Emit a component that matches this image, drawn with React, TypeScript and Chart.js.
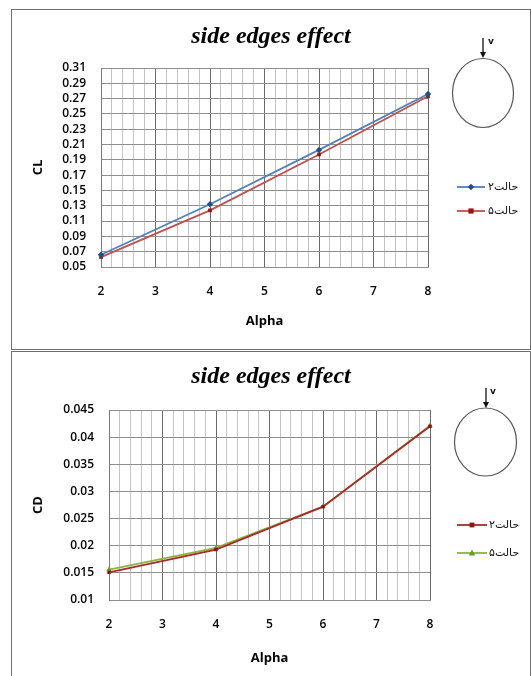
import React, { useEffect, useRef } from 'react';
import { Chart, registerables } from 'chart.js';

Chart.register(...registerables);

// ---- data ----
const chartTitle = 'side edges effect';
const xAxisTitle = 'Alpha';
const caseLabels = ['حالت۲', 'حالت۵'];
const flowLabel = 'v';

const alphaValues = [2, 4, 6, 8];
const alphaTickLabels = ['2', '3', '4', '5', '6', '7', '8'];
const alphaMinorPerUnit = 5;

const clTitle = 'CL';
const clTickLabels = ['0.05', '0.07', '0.09', '0.11', '0.13', '0.15', '0.17', '0.19', '0.21', '0.23', '0.25', '0.27', '0.29', '0.31'];
const clCase2 = [0.066, 0.132, 0.203, 0.276];
const clCase5 = [0.063, 0.124, 0.197, 0.273];

const cdTitle = 'CD';
const cdTickLabels = ['0.01', '0.015', '0.02', '0.025', '0.03', '0.035', '0.04', '0.045'];
const cdCase2 = [0.0151, 0.0193, 0.0272, 0.042];
const cdCase5 = [0.0156, 0.0196, 0.0272, 0.0421];

// ---- styling ----
const TICK_FONT = { family: '"Open Sans", "DejaVu Sans", sans-serif', size: 12, weight: '600' as const };
const AXIS_TITLE_FONT = { family: '"Open Sans", "DejaVu Sans", sans-serif', size: 13, weight: 'bold' as const };
const TITLE_FONT = { family: '"Liberation Serif", "Times New Roman", serif', size: 24, weight: 'bold' as const, style: 'italic' as const };
const GRID_H = '#8f8f8f';
const GRID_MAJOR = '#6a6a6a';
const GRID_MINOR = '#c4c4c4';

type MarkerStyle = 'rectRot' | 'rect' | 'triangle';
type Series = { label: string; values: number[]; line: string; marker: string; style: MarkerStyle; radius: number };

type Frame = {
  width: number;
  height: number;
  yAxisWidth: number;
  rightGutter: number;
  xAxisHeight: number;
  titlePadTop: number;
  titlePadBottom: number;
  xTickPad: number;
  xTitlePadBottom: number;
  yTickPad: number;
  yTitlePad: number;
  legendRows: number[];
  legendLine: [number, number];
  legendMarkerX: number;
  legendTextX: number;
  circle: { cx: number; cy: number; rx: number; ry: number };
  arrow: { x: number; y0: number; y1: number };
  vLabel: { x: number; y: number };
};

const isWhole = (v: number) => Math.abs(v - Math.round(v)) < 1e-9;

function alphaGrid() {
  const first = Number(alphaTickLabels[0]);
  const last = Number(alphaTickLabels[alphaTickLabels.length - 1]);
  const steps = (last - first) * alphaMinorPerUnit;
  const out: { value: number }[] = [];
  for (let i = 0; i <= steps; i++) out.push({ value: first + i / alphaMinorPerUnit });
  return out;
}

function drawMarker(ctx: CanvasRenderingContext2D, style: MarkerStyle, x: number, y: number, r: number, color: string) {
  ctx.save();
  ctx.fillStyle = color;
  ctx.beginPath();
  if (style === 'rectRot') {
    ctx.moveTo(x, y - r);
    ctx.lineTo(x + r, y);
    ctx.lineTo(x, y + r);
    ctx.lineTo(x - r, y);
  } else if (style === 'rect') {
    ctx.rect(x - r, y - r, r * 2, r * 2);
  } else {
    ctx.moveTo(x, y - r * 1.1);
    ctx.lineTo(x + r, y + r * 0.8);
    ctx.lineTo(x - r, y + r * 0.8);
  }
  ctx.closePath();
  ctx.fill();
  ctx.restore();
}

// Legend entries and the cylinder sketch on the right of each chart
function makeSidePanel(frame: Frame, series: Series[]) {
  return {
    id: 'sidePanel',
    afterDraw(chart: Chart) {
      const ctx = chart.ctx;
      ctx.save();
      // cylinder cross-section
      ctx.strokeStyle = '#555';
      ctx.lineWidth = 1.2;
      ctx.beginPath();
      ctx.ellipse(frame.circle.cx, frame.circle.cy, frame.circle.rx, frame.circle.ry, 0, 0, Math.PI * 2);
      ctx.stroke();
      // flow arrow
      const a = frame.arrow;
      ctx.strokeStyle = '#111';
      ctx.fillStyle = '#111';
      ctx.lineWidth = 1.3;
      ctx.beginPath();
      ctx.moveTo(a.x, a.y0);
      ctx.lineTo(a.x, a.y1 - 5);
      ctx.stroke();
      ctx.beginPath();
      ctx.moveTo(a.x - 3, a.y1 - 6);
      ctx.lineTo(a.x + 3, a.y1 - 6);
      ctx.lineTo(a.x, a.y1);
      ctx.closePath();
      ctx.fill();
      ctx.font = 'bold 9px "DejaVu Sans", sans-serif';
      ctx.textAlign = 'left';
      ctx.textBaseline = 'middle';
      ctx.fillText(flowLabel, frame.vLabel.x, frame.vLabel.y);
      // legend
      series.forEach((s, i) => {
        const y = frame.legendRows[i];
        ctx.strokeStyle = s.line;
        ctx.lineWidth = 1.8;
        ctx.beginPath();
        ctx.moveTo(frame.legendLine[0], y);
        ctx.lineTo(frame.legendLine[1], y);
        ctx.stroke();
        drawMarker(ctx, s.style, frame.legendMarkerX, y, s.radius, s.marker);
        ctx.fillStyle = '#111';
        ctx.font = '11px "DejaVu Sans", sans-serif';
        ctx.textAlign = 'left';
        ctx.textBaseline = 'middle';
        ctx.fillText(s.label, frame.legendTextX, y);
      });
      ctx.restore();
    },
  };
}

function makeConfig(frame: Frame, yTitle: string, yLabels: string[], series: Series[]): any {
  const yValues = yLabels.map(Number);
  return {
    type: 'line',
    data: {
      datasets: series.map((s) => ({
        label: s.label,
        data: alphaValues.map((a, i) => ({ x: a, y: s.values[i] })),
        borderColor: s.line,
        borderWidth: 1.8,
        pointStyle: s.style,
        pointRadius: s.radius,
        pointBackgroundColor: s.marker,
        pointBorderColor: s.marker,
        pointBorderWidth: 0,
        tension: 0,
        clip: false,
        fill: false,
      })),
    },
    options: {
      responsive: false,
      animation: false,
      devicePixelRatio: 1,
      events: [],
      layout: { padding: { left: 0, right: 0, top: 0, bottom: 0 } },
      plugins: {
        legend: { display: false },
        tooltip: { enabled: false },
        title: {
          display: true,
          text: chartTitle,
          color: '#000',
          font: TITLE_FONT,
          padding: { top: frame.titlePadTop, bottom: frame.titlePadBottom },
        },
      },
      scales: {
        x: {
          type: 'linear',
          min: Number(alphaTickLabels[0]),
          max: Number(alphaTickLabels[alphaTickLabels.length - 1]),
          afterBuildTicks: (s: any) => {
            s.ticks = alphaGrid();
          },
          afterFit: (s: any) => {
            s.height = frame.xAxisHeight;
          },
          ticks: {
            autoSkip: false,
            maxRotation: 0,
            padding: frame.xTickPad,
            color: '#000',
            font: TICK_FONT,
            callback: (v: number) => {
              const lbl = alphaTickLabels.find((t) => Math.abs(Number(t) - v) < 1e-9);
              return lbl ?? '';
            },
          },
          grid: {
            drawTicks: false,
            lineWidth: 1,
            color: (c: any) => (c.tick && isWhole(c.tick.value) ? GRID_MAJOR : GRID_MINOR),
          },
          border: { display: true, color: GRID_H, width: 1 },
          title: {
            display: true,
            text: xAxisTitle,
            color: '#000',
            font: AXIS_TITLE_FONT,
            padding: { top: 0, bottom: frame.xTitlePadBottom },
          },
        },
        y: {
          type: 'linear',
          position: 'left',
          min: yValues[0],
          max: yValues[yValues.length - 1],
          afterBuildTicks: (s: any) => {
            s.ticks = yValues.map((v) => ({ value: v }));
          },
          afterFit: (s: any) => {
            s.width = frame.yAxisWidth;
          },
          ticks: {
            autoSkip: false,
            padding: frame.yTickPad,
            color: '#000',
            font: TICK_FONT,
            callback: (_v: number, i: number) => yLabels[i],
          },
          grid: { drawTicks: false, lineWidth: 1, color: GRID_H },
          border: { display: true, color: '#7a7a7a', width: 1 },
          title: {
            display: true,
            text: yTitle,
            color: '#000',
            font: AXIS_TITLE_FONT,
            padding: { top: frame.yTitlePad, bottom: 0 },
          },
        },
        gutter: {
          type: 'linear',
          position: 'right',
          display: true,
          grid: { display: false },
          border: { display: false },
          ticks: { display: false },
          afterFit: (s: any) => {
            s.width = frame.rightGutter;
          },
        },
      },
    },
    plugins: [makeSidePanel(frame, series)],
  };
}

const clFrame: Frame = {
  width: 518,
  height: 339,
  yAxisWidth: 89,
  rightGutter: 102,
  xAxisHeight: 82,
  titlePadTop: 12.3,
  titlePadBottom: 16.9,
  xTickPad: 17,
  xTitlePadBottom: 19.5,
  yTickPad: 15,
  yTitlePad: 18.2,
  legendRows: [177, 201],
  legendLine: [445, 473],
  legendMarkerX: 459,
  legendTextX: 476,
  circle: { cx: 471, cy: 83, rx: 30.5, ry: 34.5 },
  arrow: { x: 471, y0: 28, y1: 48 },
  vLabel: { x: 476, y: 32 },
};

const cdFrame: Frame = {
  width: 518,
  height: 324,
  yAxisWidth: 97,
  rightGutter: 100,
  xAxisHeight: 76,
  titlePadTop: 10.6,
  titlePadBottom: 18.6,
  xTickPad: 17.5,
  xTitlePadBottom: 10.2,
  yTickPad: 15,
  yTitlePad: 18.2,
  legendRows: [173, 201],
  legendLine: [445, 475],
  legendMarkerX: 460,
  legendTextX: 477,
  circle: { cx: 473.5, cy: 90, rx: 31, ry: 34 },
  arrow: { x: 474, y0: 36, y1: 56 },
  vLabel: { x: 478, y: 40 },
};

const clSeries: Series[] = [
  { label: caseLabels[0], values: clCase2, line: '#4f81bd', marker: '#1f4e8c', style: 'rectRot', radius: 3.2 },
  { label: caseLabels[1], values: clCase5, line: '#c0504d', marker: '#a01010', style: 'rect', radius: 2.6 },
];

const cdSeries: Series[] = [
  { label: caseLabels[0], values: cdCase2, line: '#a82a2a', marker: '#8b1414', style: 'rect', radius: 2.4 },
  { label: caseLabels[1], values: cdCase5, line: '#8ab43c', marker: '#6f9a28', style: 'triangle', radius: 3.2 },
];

function ChartPanel({ frame, config, left, top, boxHeight }: { frame: Frame; config: any; left: number; top: number; boxHeight: number }) {
  const ref = useRef<HTMLCanvasElement>(null);
  useEffect(() => {
    const chart = new Chart(ref.current as HTMLCanvasElement, config);
    return () => chart.destroy();
  }, [config]);
  return (
    <div
      style={{
        position: 'absolute',
        left,
        top,
        width: frame.width,
        height: boxHeight,
        border: '1px solid #6e6e6e',
        background: '#fff',
      }}
    >
      <canvas ref={ref} width={frame.width} height={frame.height} style={{ display: 'block', width: frame.width, height: frame.height }} />
    </div>
  );
}

const clConfig = makeConfig(clFrame, clTitle, clTickLabels, clSeries);
const cdConfig = makeConfig(cdFrame, cdTitle, cdTickLabels, cdSeries);

export default function App() {
  return (
    <div style={{ position: 'absolute', left: 0, top: 0, width: 531, height: 676, overflow: 'hidden', background: '#fff' }}>
      <ChartPanel frame={clFrame} config={clConfig} left={11} top={9} boxHeight={339} />
      <ChartPanel frame={cdFrame} config={cdConfig} left={11} top={351} boxHeight={340} />
    </div>
  );
}
